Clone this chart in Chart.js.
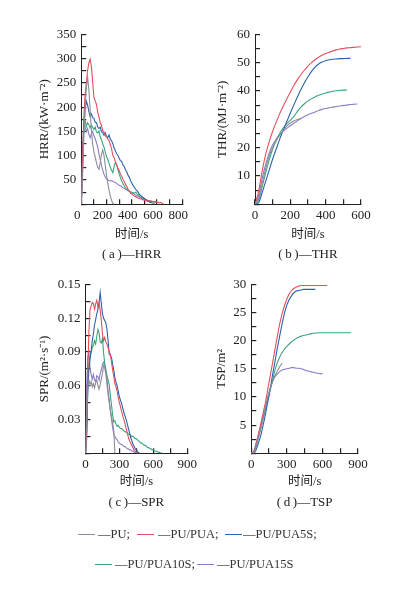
<!DOCTYPE html>
<html>
<head>
  <meta charset="UTF-8" />
  <title>PU/PUA cone calorimeter curves</title>
  <style>
    body { margin: 0; width: 395px; height: 597px; background: #fff; position: relative; overflow: hidden;
           font-family: 'Liberation Serif', 'Noto Sans CJK SC', serif; color: #333; }
    canvas { position: absolute; }
    .sw { position: absolute; width: 17px; height: 0; border-top: 1.5px solid; }
    .lbl { position: absolute; font-size: 12.5px; line-height: 16px; white-space: nowrap; }
  </style>
</head>
<body>
  <canvas id="hrrChart" width="200" height="270" style="left:0;top:0"></canvas>
  <canvas id="thrChart" width="200" height="270" style="left:195px;top:0"></canvas>
  <canvas id="sprChart" width="205" height="270" style="left:0;top:250px"></canvas>
  <canvas id="tspChart" width="200" height="270" style="left:195px;top:250px"></canvas>

  <div class="sw" style="left:78px;top:534px;border-color:#8c8c99"></div><div class="lbl" style="left:98px;top:526px">—PU;</div>
  <div class="sw" style="left:137px;top:534px;border-color:#e0505e"></div><div class="lbl" style="left:158px;top:526px">—PU/PUA;</div>
  <div class="sw" style="left:225px;top:534px;border-color:#2b62ad"></div><div class="lbl" style="left:243px;top:526px">—PU/PUA5S;</div>
  <div class="sw" style="left:95px;top:564px;border-color:#3aa57a"></div><div class="lbl" style="left:115px;top:556px">—PU/PUA10S;</div>
  <div class="sw" style="left:197px;top:564px;border-color:#8b7bc4"></div><div class="lbl" style="left:217px;top:556px">—PU/PUA15S</div>

  <script src="https://cdn.jsdelivr.net/npm/chart.js"></script>
  <script>
    const seriesNames = ['PU', 'PU/PUA', 'PU/PUA5S', 'PU/PUA10S', 'PU/PUA15S'];
    const seriesColors = ['#8c8c99', '#e0505e', '#2b62ad', '#3aa57a', '#8b7bc4'];

    // (a) HRR, sampled every 10 s
    const hrrTime = [0,10,20,30,40,50,60,70,80,90,100,110,120,130,140,150,160,170,180,190,200,210,220,230,240,250,260,270,280,290,300,310,320,330,340,350,360,370,380,390,400,410,420,430,440,450,460,470,480,490,500,510,520,530,540,550,560,570,580,590,600,610,620,630,640,650,660];
    const hrrPU = [0,55,140,198,240,262,236,196,152,124,108,97,86,76,72,86,103,112,100,80,60,43,29,17,8,2,0];
    const hrrPUA = [0,90,178,226,250,276,291,299,284,252,220,213,206,189,180,168,163,151,149,141,139,134,131,123,114,101,96,87,82,74,70,62,58,51,47,41,37,31,28,23,21,19,17,16,14,13,12,11,11,9,9,8,8,7,7,6,6,5,6,5,4,4,3,4,2,1];
    const hrrPUA5S = [0,75,158,196,212,204,191,181,186,179,177,169,168,159,156,159,149,148,142,147,140,137,143,134,131,125,116,110,104,101,95,90,88,81,78,71,67,60,56,49,44,39,35,31,28,25,21,18,16,14,12,10,8,7,5,4,3];
    const hrrPUA10S = [0,88,164,173,160,168,164,157,163,159,154,159,149,147,151,139,133,124,118,107,98,93,84,76,70,65,78,86,81,72,62,55,48,43,38,34,31,29,27,26,25,24,23,25,22,20,17,14,12,11,9,8,7,6,5,4,3,2,2];
    const hrrPUA15S = [0,108,168,159,150,156,144,137,146,150,141,135,127,118,104,92,80,70,62,56,52,50,49,48,49,47,46,45,43,41,39,38,36,34,33,31,30,28,27,25,24,22,21,19,18,16,15,14,13,12,11,10,9,8,7,7,6,5,5,4,4];

    // (b) THR, sampled every 20 s
    const thrTime = [0,20,40,60,80,100,120,140,160,180,200,220,240,260,280,300,320,340,360,380,400,420,440,460,480,500,520,540,560,580,600];
    const thrPU = [0,2,7,12.5,17,20,22.5,24.3,26,27.6,28.7,29.4,29.9,30.2];
    const thrPUA = [0,4.5,11.5,17.5,22,25.8,29,32,34.7,37.2,39.6,41.9,44,45.8,47.4,48.8,50,51,51.9,52.6,53.2,53.7,54.1,54.5,54.8,55,55.2,55.3,55.4,55.5,55.6];
    const thrPUA5S = [0,0.5,4,8,12,16,19.5,23,26.2,29.2,32.2,35.1,37.9,40.5,42.9,45,46.9,48.4,49.5,50.2,50.7,51,51.2,51.3,51.4,51.4,51.5,51.5];
    const thrPUA10S = [0,1.5,6,11,15.5,19.5,22.5,25,27,28.5,29.7,31,32.8,34.3,35.5,36.5,37.3,37.9,38.5,38.9,39.3,39.6,39.9,40.1,40.2,40.3,40.3];
    const thrPUA15S = [0,3,9,14,18,21,23,24.6,25.8,26.8,27.7,28.6,29.5,30.3,31,31.6,32.1,32.6,33.1,33.5,33.8,34.1,34.3,34.5,34.7,34.9,35,35.2,35.3,35.4];

    // (c) SPR, sampled every 10 s
    const sprTime = [0,10,20,30,40,50,60,70,80,90,100,110,120,130,140,150,160,170,180,190,200,210,220,230,240,250,260,270,280,290,300,310,320,330,340,350,360,370,380,390,400,410,420,430,440,450,460,470,480,490,500,510,520,530,540,550,560,570,580,590,600,610,620,630,640,650,660,670,680];
    const sprPU = [0,0.03,0.058,0.065,0.061,0.064,0.059,0.062,0.058,0.063,0.065,0.06,0.057,0.061,0.066,0.071,0.078,0.076,0.07,0.061,0.052,0.045,0.038,0.033,0.027,0.02,0];
    const sprPUA = [0,0.02,0.072,0.108,0.128,0.131,0.134,0.133,0.128,0.133,0.136,0.13,0.134,0.127,0.118,0.106,0.1,0.103,0.099,0.097,0.094,0.09,0.088,0.081,0.074,0.068,0.062,0.059,0.055,0.049,0.045,0.041,0.037,0.033,0.03,0.026,0.022,0.018,0.014,0.011,0.009,0.007,0.005,0.003,0.002,0.001,0];
    const sprPUA5S = [0,0.012,0.055,0.074,0.084,0.091,0.1,0.106,0.114,0.119,0.124,0.128,0.134,0.143,0.133,0.124,0.12,0.118,0.116,0.11,0.1,0.088,0.087,0.085,0.079,0.074,0.067,0.063,0.06,0.055,0.05,0.047,0.044,0.04,0.036,0.033,0.03,0.026,0.022,0.018,0.014,0.011,0.008,0.006,0.004,0.003,0.0015,0.0005,0];
    const sprPUA10S = [0,0.018,0.06,0.079,0.086,0.09,0.094,0.096,0.1,0.097,0.104,0.11,0.107,0.099,0.098,0.102,0.089,0.08,0.072,0.069,0.065,0.061,0.051,0.043,0.034,0.028,0.029,0.026,0.024,0.025,0.023,0.022,0.022,0.021,0.02,0.019,0.019,0.018,0.017,0.017,0.016,0.015,0.015,0.014,0.013,0.013,0.012,0.011,0.01,0.009,0.009,0.008,0.007,0.007,0.006,0.005,0.005,0.004,0.004,0.003,0.003,0.002,0.002,0.0015,0.001,0.001,0.0005,0.0003,0];
    const sprPUA15S = [0,0.058,0.086,0.09,0.076,0.07,0.066,0.07,0.065,0.064,0.069,0.068,0.065,0.071,0.074,0.079,0.081,0.079,0.075,0.066,0.056,0.047,0.038,0.03,0.023,0.017,0.015,0.013,0.012,0.01,0.009,0.008,0.008,0.007,0.006,0.006,0.005,0.004,0.004,0.003,0.003,0.002,0.002,0.001,0.001,0.0005,0.0002,0];

    // (d) TSP, sampled every 20 s
    const tspTime = [0,20,40,60,80,100,120,140,160,180,200,220,240,260,280,300,320,340,360,380,400,420,440,460,480,500,520,540,560,580,600,620,640,660,680,700,720,740,760,780,800,820,840];
    const tspPU = [0,0,1.2,2.8,4.4,6.2,8.2,10,11.5,12.8,13.8,14.6,15.4,16];
    const tspPUA = [0,0.2,1.5,3.3,5.2,7.2,9.1,11.5,13.8,16.1,18.5,20.8,23,24.8,26.2,27.4,28.3,28.9,29.3,29.5,29.7,29.8,29.8,29.8,29.8,29.8,29.8,29.8,29.8,29.8,29.8,29.8,29.8];
    const tspPUA5S = [0,0,0.6,1.8,3.2,5,7,9.2,11.5,14,16.3,18.7,20.9,23,24.9,26.3,27.3,28,28.5,28.8,28.9,29,29.1,29.1,29.1,29.1,29.1,29.1];
    const tspPUA10S = [0,0,1.2,2.8,4.5,6.2,7.8,9.5,11.2,13,14.8,16.1,17.1,17.9,18.5,19,19.4,19.8,20.1,20.4,20.6,20.8,20.9,21,21.1,21.2,21.3,21.3,21.4,21.4,21.4,21.4,21.4,21.4,21.4,21.4,21.4,21.4,21.4,21.4,21.4,21.4,21.4];
    const tspPUA15S = [0,0.3,1.8,3.4,5,6.6,8.3,10,11.6,12.8,13.6,14.1,14.5,14.8,14.9,15,15.1,15.2,15.2,15.1,15.1,15,14.9,14.7,14.6,14.5,14.4,14.3,14.2,14.15,14.1];

    const serif = "'Liberation Serif', 'Noto Sans CJK SC', serif";
    const tickFont = { family: serif, size: 13 };
    const ink = '#222';

    // negative tick length turns the axis tick marks inwards, as printed
    const innerGrid = { display: true, drawOnChartArea: false, drawTicks: true, tickLength: -5, color: ink, tickColor: ink, tickWidth: 1.2, lineWidth: 1.2 };

    function toPoints(time, values) {
      return values.map((v, i) => ({ x: time[i], y: v }));
    }

    function makeChart(id, p) {
      const datasets = p.series.map((values, k) => ({
        label: seriesNames[k],
        data: toPoints(p.time, values),
        borderColor: seriesColors[k],
        borderWidth: 1.1,
        pointRadius: 0,
        fill: false,
        cubicInterpolationMode: p.smooth ? 'monotone' : 'default',
        tension: 0
      }));
      return new Chart(document.getElementById(id), {
        type: 'line',
        data: { datasets: datasets },
        options: {
          responsive: false,
          animation: false,
          events: [],
          layout: { padding: p.pad },
          plugins: {
            legend: { display: false },
            tooltip: { enabled: false },
            title: {
              display: true, text: p.caption, position: 'bottom', fullSize: false,
              color: ink, font: { family: serif, size: 13, weight: 'normal' },
              padding: { top: p.capTop, bottom: 0 }
            }
          },
          scales: {
            x: {
              type: 'linear', min: 0, max: p.xMax,
              grid: innerGrid,
              border: { display: true, color: ink, width: 1 },
              ticks: {
                stepSize: p.xStep, autoSkip: false, maxRotation: 0, minRotation: 0,
                padding: 8, labelOffset: p.xShift || 0, color: ink, font: tickFont,
                callback: v => (Math.round(v / p.xStep) % 2 === 0 ? String(v) : '')
              },
              title: { display: true, text: '时间/s', color: ink, font: { family: serif, size: 12.5 }, padding: { top: 0, bottom: 4 } },
              afterFit: s => { s.height = p.xHeight; }
            },
            y: {
              type: 'linear', min: 0, max: p.yMax,
              grid: innerGrid,
              border: { display: true, color: ink, width: 1 },
              ticks: {
                stepSize: p.yStep, autoSkip: false, padding: 10, color: ink, font: tickFont,
                callback: v => {
                  const k = Math.round(v / p.yStep);
                  return (k % 2 === 0 && k !== 0) ? p.fmt(v) : '';
                }
              },
              title: { display: true, text: p.yTitle, color: ink, font: { family: serif, size: 13 }, padding: { top: 4, bottom: 4 } },
              afterFit: s => { s.width = p.yWidth; }
            }
          }
        }
      });
    }

    const whole = v => String(Math.round(v));

    makeChart('hrrChart', {
      time: hrrTime, series: [hrrPU, hrrPUA, hrrPUA5S, hrrPUA10S, hrrPUA15S],
      xMax: 800, xStep: 100, xShift: -4, yMax: 350, yStep: 25, fmt: whole,
      yTitle: 'HRR/(kW·m⁻²)', caption: '(\u2009a\u2009)—HRR',
      pad: { left: 33, right: 12, top: 34.3, bottom: 7.9 }, yWidth: 48.3, xHeight: 42.2, capTop: 0
    });
    makeChart('thrChart', {
      time: thrTime, series: [thrPU, thrPUA, thrPUA5S, thrPUA10S, thrPUA15S], smooth: true,
      xMax: 600, xStep: 100, yMax: 60, yStep: 5, fmt: whole,
      yTitle: 'THR/(MJ·m⁻²)', caption: '(\u2009b\u2009)—THR',
      pad: { left: 16.2, right: 34, top: 34.3, bottom: 7.9 }, yWidth: 43.8, xHeight: 42.2, capTop: 0
    });
    makeChart('sprChart', {
      time: sprTime, series: [sprPU, sprPUA, sprPUA5S, sprPUA10S, sprPUA15S],
      xMax: 900, xStep: 150, yMax: 0.15, yStep: 0.015, fmt: v => v.toFixed(2),
      yTitle: 'SPR/(m²·s⁻¹)', caption: '(\u2009c\u2009)—SPR',
      pad: { left: 33, right: 13.5, top: 34.5, bottom: 9.5 }, yWidth: 52.5, xHeight: 39.9, capTop: 1.7
    });
    makeChart('tspChart', {
      time: tspTime, series: [tspPU, tspPUA, tspPUA5S, tspPUA10S, tspPUA15S], smooth: true,
      xMax: 900, xStep: 150, yMax: 30, yStep: 2.5, fmt: whole,
      yTitle: 'TSP/m²', caption: '(\u2009d\u2009)—TSP',
      pad: { left: 15.2, right: 37, top: 34.3, bottom: 9.5 }, yWidth: 41.1, xHeight: 39.9, capTop: 1.7
    });
  </script>
</body>
</html>
